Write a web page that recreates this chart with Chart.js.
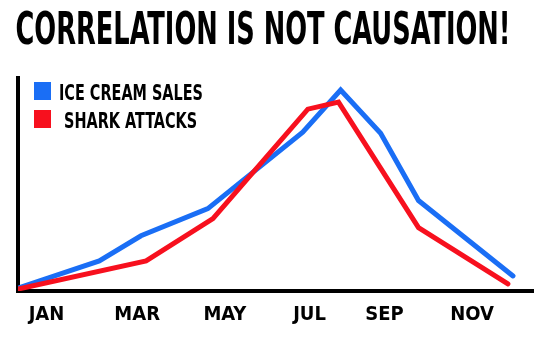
<!DOCTYPE html>
<html><head><meta charset="utf-8">
<script src="https://cdn.jsdelivr.net/npm/chart.js@4"></script>
<style>html,body{margin:0;padding:0;background:#fff}#wrap{width:540px;height:340px}</style>
</head><body><div id="wrap"><canvas id="c" width="540" height="340"></canvas></div>
<script>
// ---- data ----
const chartTitle = "CORRELATION IS NOT CAUSATION!";
const seriesNames = ["ICE CREAM SALES", " SHARK ATTACKS"];
const iceMonths = [0.34, 2.24, 3.22, 4.79, 7.02, 7.91, 8.85, 9.74, 11.96];
const iceValues = [1.5, 15, 27.5, 41, 79, 100, 78.5, 45, 7.5];
const sharkMonths = [0.34, 3.34, 4.91, 7.14, 7.86, 9.74, 11.84];
const sharkValues = [1, 15, 36, 90.5, 94, 31.5, 3.5];
const tickLabels = ["JAN", "MAR", "MAY", "JUL", "SEP", "NOV"];
const tickMonths = [1, 3.13, 5.19, 7.18, 8.94, 11];

const FONT = "'Liberation Sans Narrow', 'DejaVu Sans Condensed', 'Roboto', sans-serif";
const BLUE = '#1a6ef5';
const RED = '#f7101e';

const toPts = (xs, ys) => xs.map((x, i) => ({ x: x, y: ys[i] }));

const titlePlugin = {
  id: 'condensedTitle',
  afterDraw(chart) {
    const ctx = chart.ctx;
    ctx.save();
    ctx.font = "bold 44px " + FONT;
    const w = ctx.measureText(chartTitle).width;
    const sx = 495 / w;
    ctx.translate(chart.width / 2 - 7, 44);
    ctx.scale(sx, 1);
    ctx.fillStyle = '#000';
    ctx.textAlign = 'center';
    ctx.textBaseline = 'alphabetic';
    ctx.fillText(chartTitle, 0, 0);
    ctx.restore();
  }
};

const legendPlugin = {
  id: 'boxLegend',
  afterDraw(chart) {
    const ctx = chart.ctx;
    const a = chart.chartArea;
    ctx.save();
    ctx.font = "bold 21px " + FONT;
    const sx = 144 / ctx.measureText(seriesNames[0]).width;
    chart.data.datasets.forEach((ds, i) => {
      const y = a.top + 4 + i * 28;
      ctx.fillStyle = ds.borderColor;
      ctx.fillRect(a.left + 16, y, 17, 18);
      ctx.save();
      ctx.translate(a.left + 41, y + 18);
      ctx.scale(sx, 1);
      ctx.fillStyle = '#000';
      ctx.textBaseline = 'alphabetic';
      ctx.fillText(ds.label, 0, 0);
      ctx.restore();
    });
    ctx.restore();
  }
};

new Chart(document.getElementById('c'), {
  type: 'line',
  data: {
    datasets: [
      { label: seriesNames[0], data: toPts(iceMonths, iceValues), borderColor: BLUE, backgroundColor: BLUE,
        borderWidth: 5, pointRadius: 0, tension: 0, fill: false, order: 1, borderCapStyle: 'round' },
      { label: seriesNames[1], data: toPts(sharkMonths, sharkValues), borderColor: RED, backgroundColor: RED,
        borderWidth: 5, pointRadius: 0, tension: 0, fill: false, order: 0, borderCapStyle: 'round' }
    ]
  },
  options: {
    responsive: false,
    animation: false,
    devicePixelRatio: 1,
    layout: { padding: { top: 78, left: 10, right: 7, bottom: 9 } },
    plugins: { legend: { display: false }, title: { display: false }, tooltip: { enabled: false } },
    scales: {
      x: {
        type: 'linear', min: 0.33, max: 12.43,
        afterBuildTicks(axis) { axis.ticks = tickMonths.map(v => ({ value: v })); },
        ticks: {
          autoSkip: false, maxRotation: 0, padding: 4, color: '#000',
          font: { family: FONT, size: 20, weight: 'bold' },
          callback: (v, i) => tickLabels[i]
        },
        grid: { display: false },
        border: { display: true, width: 4, color: '#000' }
      },
      y: {
        min: 0, max: 106,
        ticks: { display: false },
        grid: { display: false },
        border: { display: true, width: 4, color: '#000' }
      }
    }
  },
  plugins: [titlePlugin, legendPlugin]
});
</script>
</body></html>
